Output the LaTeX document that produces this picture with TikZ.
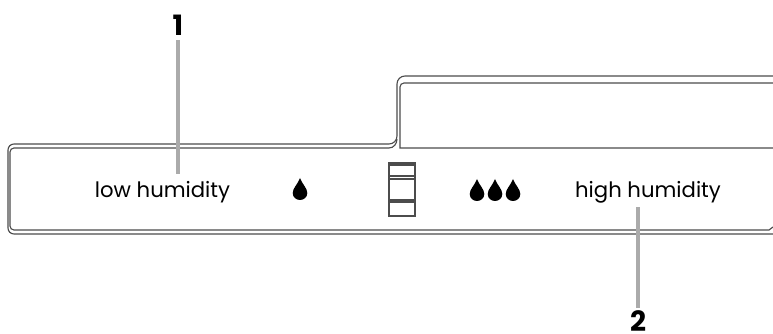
\documentclass[tikz,border=0pt]{standalone}
\usepackage{fontspec}
\setmainfont{Poppins}
\tikzset{
  rimline/.style={draw=black!70,line width=0.85pt},
  leaderline/.style={draw=black!33,line width=3pt},
  callnum/.style={font=\fontsize{21}{21}\selectfont\bfseries,inner sep=0pt,anchor=base},
  modetext/.style={font=\fontsize{15.9}{18}\selectfont,inner sep=0pt,anchor=base}
}
\newcommand{\waterdrop}[2]{\fill (#1,#2) .. controls (#1-2,#2+6) and (#1-7.3,#2+10) .. (#1-7.3,#2+15) .. controls (#1-7.3,#2+19.5) and (#1-3.5,#2+22) .. (#1,#2+22) .. controls (#1+3.5,#2+22) and (#1+7.3,#2+19.5) .. (#1+7.3,#2+15) .. controls (#1+7.3,#2+10) and (#1+2,#2+6) .. (#1,#2) -- cycle;}

\begin{document}
\begin{tikzpicture}[x=0.75pt,y=-0.75pt]
\useasboundingbox (0,0) rectangle (773,334);
% panel outline
\draw[rimline] (773,76)--(405,76) to[out=180,in=90] (397,84) -- (397,136) to[out=-90,in=0] (389,144) -- (14,144) to[out=180,in=90] (8,150) -- (8,228) to[out=-90,in=180] (14,234) -- (773,234);
\draw[rimline] (773,83)--(404,83) to[out=180,in=90] (400,87) -- (400,148) -- (773,148);
\draw[rimline] (397,139) to[out=-90,in=0] (389,148) -- (14,148) to[out=180,in=90] (10,152) -- (10,226) to[out=-90,in=180] (14,230) -- (769,230) -- (773,227);
% switch
\draw[rimline] (389,163) rectangle (415,216);
\foreach \y in {165,176,179,200,202}{\draw[rimline] (389,\y)--(415,\y);}
% drops
\waterdrop{300}{178}
\foreach \x in {477,495,513}{\waterdrop{\x}{179}}
% labels
\node[modetext] (low) at (162.5,198) {low humidity};
\node[modetext] (high) at (648,198) {high humidity};
\node[callnum] (num1) at (178,36) {1};
\node[callnum] (num2) at (638,331.5) {2};
\coordinate (top1) at (178,40);
\coordinate (tip1) at (178,174);
\coordinate (top2) at (638,308);
\coordinate (tip2) at (638,207);
\draw[leaderline] (top1) -- (tip1);
\draw[leaderline] (top2) -- (tip2);
\end{tikzpicture}
\end{document}
